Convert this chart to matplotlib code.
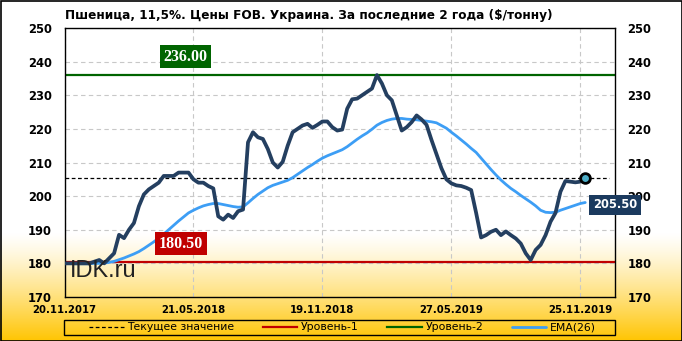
import numpy as np
import matplotlib
matplotlib.use('Agg')
import matplotlib.pyplot as plt
from matplotlib.patches import Rectangle
import matplotlib.transforms as mtransforms

plt.rcParams['font.family'] = ['DejaVu Sans']

title = "Пшеница, 11,5%. Цены FOB. Украина. За последние 2 года ($/тонну)"

price = [180, 180, 180, 180, 180, 180, 180.5, 181, 180, 181.5,
         183, 188.5, 187.5, 190, 192, 197, 200.5, 202, 203, 204,
         206, 206, 206, 207, 207, 207, 205, 204, 204, 203,
         202.3, 194, 193, 194.5, 193.5, 195.5, 196, 216, 219, 217.5,
         217, 214, 210, 208.5, 210.2, 215, 219, 220, 221, 221.5,
         220.3, 221.2, 222.2, 222.2, 220.5, 219.5, 219.8, 226, 228.8, 229,
         230, 231, 232, 236, 233.5, 230, 228.5, 224, 219.5, 220.5,
         222, 224, 222.8, 221.2, 216.7, 212.5, 208.3, 205, 203.8, 203.2,
         203, 202.5, 201.8, 195, 187.7, 188.4, 189.4, 190, 188.4, 189.5,
         188.4, 187.4, 185.9, 183, 181, 184, 185.5, 188.4, 192.4, 195,
         201.3, 204.5, 204.3, 204.1, 204.3, 205.5]

ema26 = [180, 180, 179.9, 179.9, 179.9, 179.9, 180, 180, 180.1, 180.3,
         180.6, 181.1, 181.6, 182.2, 182.8, 183.5, 184.4, 185.4, 186.4, 187.5,
         188.7, 190, 191.3, 192.6, 193.8, 195, 195.8, 196.5, 197.1, 197.5,
         197.8, 197.8, 197.5, 197.2, 196.9, 196.7, 196.8, 198, 199.3, 200.5,
         201.5, 202.5, 203.2, 203.7, 204.2, 204.7, 205.5, 206.5, 207.5, 208.5,
         209.4, 210.4, 211.3, 212, 212.6, 213.2, 213.8, 214.7, 215.8, 216.9,
         217.9, 218.8, 219.9, 221.1, 221.9, 222.5, 222.9, 223.1, 223.1, 222.9,
         222.8, 222.7, 222.5, 222.3, 222.1, 221.8, 221, 220.2, 219, 217.9,
         216.7, 215.5, 214.2, 213, 211.3, 209.6, 207.9, 206.3, 204.8, 203.5,
         202.3, 201.3, 200.2, 199.2, 198.2, 197.1, 195.8, 195.2, 195.1, 195.2,
         195.8, 196.3, 196.8, 197.3, 197.8, 198.1]

x_tick_pos = [0, 26, 52, 78, 104]
x_tick_labels = ["20.11.2017", "21.05.2018", "19.11.2018", "27.05.2019", "25.11.2019"]
y_ticks = [170, 180, 190, 200, 210, 220, 230, 240, 250]

level1 = 180.5
level2 = 236.0
current = 205.5

legend_labels = ["Текущее значение", "Уровень-1", "Уровень-2", "EMA(26)"]

W, H = 682, 341
fig = plt.figure(figsize=(W / 100, H / 100), dpi=100)

# background gradient
bg = fig.add_axes([0, 0, 1, 1], zorder=-10)
rows = np.arange(H)
t = np.clip((rows - 232) / (H - 232), 0, 1) ** 1.25
top = np.array([1.0, 1.0, 1.0])
bot = np.array([1.0, 0.77, 0.0])
grad = top[None, :] * (1 - t[:, None]) + bot[None, :] * t[:, None]
img = np.repeat(grad[:, None, :], 10, axis=1)
bg.imshow(img, aspect='auto', extent=[0, 1, 0, 1], origin='upper')
bg.set_axis_off()

x = np.arange(len(price))

ax = fig.add_axes([64.5 / W, 1 - 297 / H, (615 - 64.5) / W, (297 - 28) / H])
ax.set_facecolor('none')
ax.set_xlim(0, 111)
ax.set_ylim(170, 250)

ax.grid(True, color='#c8c8c8', linestyle=(0, (4, 3)), linewidth=0.8, zorder=0)
ax.set_axisbelow(True)

h1 = ax.axhline(level1, color='#c00000', lw=1.6, zorder=2)
h2 = ax.axhline(level2, color='#006400', lw=1.6, zorder=2)
hc = ax.axhline(current, xmax=0.99, color='black', lw=0.9, linestyle=(0, (3, 2)), zorder=2)
he, = ax.plot(x, ema26, color='#3d9ef5', lw=2.0, zorder=3, solid_capstyle='round')
ax.plot(x, price, color='#243f60', lw=2.7, zorder=4, solid_joinstyle='round')
ax.plot([x[-1]], [price[-1]], 'o', ms=7, mfc='#4bacc6', mec='black', mew=2, zorder=5)

ax.set_yticks(y_ticks)
ax.set_xticks(x_tick_pos)
ax.set_xticklabels(x_tick_labels, fontsize=7.3, fontweight='bold')
ax.tick_params(axis='x', length=0, pad=6)
ax.tick_params(axis='y', length=0, pad=9, labelsize=8.3, labelright=True)
for tick in ax.yaxis.get_major_ticks():
    tick.label1.set_fontweight('bold')
    tick.label2.set_fontweight('bold')
    tick.label2.set_fontsize(8.3)
for sp in ax.spines.values():
    sp.set_color('black')
    sp.set_linewidth(1.0)

trans = mtransforms.blended_transform_factory(ax.transAxes, ax.transData)
ax.text(0.219, 241.5, f"{level2:.2f}", transform=trans, ha='center', va='center',
        color='white', fontsize=11.5, fontweight='bold', family='Liberation Serif',
        bbox=dict(boxstyle='square,pad=0.22', fc='#006400', ec='none'), zorder=6)
ax.text(0.2116, 185.9, f"{level1:.2f}", transform=trans, ha='center', va='center',
        color='white', fontsize=11.5, fontweight='bold', family='Liberation Serif',
        bbox=dict(boxstyle='square,pad=0.22', fc='#c00000', ec='none'), zorder=6)
ax.text(1.0, 197.4, f"{current:.2f}", transform=trans, ha='center', va='center',
        color='white', fontsize=8.3, fontweight='bold',
        bbox=dict(boxstyle='square,pad=0.3', fc='#1b3a5e', ec='none'), zorder=6, clip_on=False)

ax.text(0.010, 180.9, "IDK.ru", transform=trans, ha='left', va='top', fontsize=17,
        family='Liberation Sans', color='#222222', zorder=6)

fig.text(65 / W, 1 - 16 / H, title, ha='left', va='center', fontsize=8.7, fontweight='bold')

# legend
leg = fig.legend([hc, h1, h2, he], legend_labels, loc='center left',
                 bbox_to_anchor=(89 / W, 1 - 327.5 / H, (596 - 89) / W, 0.0),
                 mode='expand', ncol=4, frameon=False, fontsize=7.8, handlelength=3.2,
                 handletextpad=0.35, borderpad=0, borderaxespad=0)
fig.patches.append(Rectangle((64 / W, 1 - 335 / H), (615 - 64) / W, 15 / H,
                             transform=fig.transFigure, fill=False, ec='black', lw=1.0))
fig.patches.append(Rectangle((0.5 / W, 0.5 / H), (W - 1) / W, (H - 1) / H,
                             transform=fig.transFigure, fill=False, ec='black', lw=1.2))

fig.savefig('out.png', dpi=100)
